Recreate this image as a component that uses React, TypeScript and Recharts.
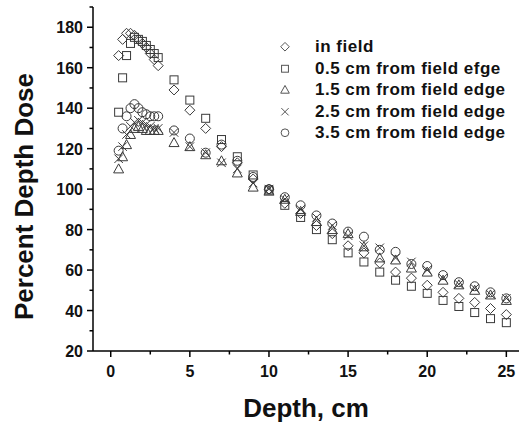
import React from 'react';
import { ScatterChart, Scatter, XAxis, YAxis, Legend } from 'recharts';

const depths = [0.5, 0.75, 1, 1.25, 1.5, 1.75, 2, 2.25, 2.5, 2.75, 3,
  4, 5, 6, 7, 8, 9, 10, 11, 12, 13, 14, 15, 16, 17, 18, 19, 20, 21, 22, 23, 24, 25];

const inField = [166, 174, 177, 177, 176, 174, 172, 170, 167, 164, 161,
  149, 139, 130, 121, 113, 105, 100, 93, 88, 82, 78, 72, 68.5, 63.5, 59, 56, 52.5, 49, 46, 44, 41, 38];
const edge05 = [138, 155, 166, 172, 175, 174, 173, 171, 169, 167, 165,
  154, 144, 135, 124.5, 116, 107, 99.5, 92, 86, 80, 75, 68.5, 64, 59, 55, 52, 48.5, 45, 42, 39, 36, 34];
const edge15 = [110, 116, 122, 127, 130, 131, 130, 129, 129, 129, 129,
  123, 121, 117, 114, 108, 101, 99, 95, 89, 84, 80, 78, 71.5, 66, 65, 61, 59, 55, 52.7, 50, 47.7, 45];
const edge25 = [115, 121, 127, 131, 133, 134, 133, 132, 131, 130, 130,
  128, 121, 118, 113, 110, 103, 100, 95, 90, 86, 82, 77, 72, 71, 66, 64, 60, 56, 53, 51, 48, 46];
const edge35 = [119, 130, 136, 140, 142, 140, 138, 137, 136, 136, 136,
  129, 125, 118, 122, 114, 106, 100, 96, 92, 87, 83, 79, 76.5, 70, 69, 63, 62, 57.5, 54, 52, 49, 46];

const seriesNames = ['in field', '0.5 cm from field efge', '1.5 cm from field edge', '2.5 cm from field edge', '3.5 cm from field edge'];
const seriesShapes = ['diamond', 'square', 'triangle', 'cross', 'circle'];
const seriesValues = [inField, edge05, edge15, edge25, edge35];

const xTicks = [0, 2.5, 5, 7.5, 10, 12.5, 15, 17.5, 20, 22.5, 25];
const yTicks = [20, 30, 40, 50, 60, 70, 80, 90, 100, 110, 120, 130, 140, 150, 160, 170, 180, 190];

const FONT = '"Liberation Sans", Arial, Helvetica, sans-serif';
const MARK = '#3a3a3a';

function drawSymbol(kind: string, cx: number, cy: number, s: number, color: string) {
  const sw = 1;
  switch (kind) {
    case 'diamond':
      return <polygon points={`${cx},${cy - s} ${cx + s},${cy} ${cx},${cy + s} ${cx - s},${cy}`} fill="none" stroke={color} strokeWidth={sw} />;
    case 'square':
      return <rect x={cx - s * 0.8} y={cy - s * 0.8} width={s * 1.6} height={s * 1.6} fill="none" stroke={color} strokeWidth={sw} />;
    case 'triangle':
      return <polygon points={`${cx},${cy - s} ${cx + s},${cy + s * 0.8} ${cx - s},${cy + s * 0.8}`} fill="none" stroke={color} strokeWidth={sw} />;
    case 'cross':
      return (
        <g stroke={color} strokeWidth={sw}>
          <line x1={cx - s * 0.85} y1={cy - s * 0.85} x2={cx + s * 0.85} y2={cy + s * 0.85} />
          <line x1={cx - s * 0.85} y1={cy + s * 0.85} x2={cx + s * 0.85} y2={cy - s * 0.85} />
        </g>
      );
    default:
      return <circle cx={cx} cy={cy} r={s * 0.9} fill="none" stroke={color} strokeWidth={sw} />;
  }
}

const makeShape = (kind: string) => (props: any) => {
  const { cx, cy } = props;
  if (cx == null || cy == null) return <g />;
  return drawSymbol(kind, cx, cy, 5, MARK);
};

const XTick = (props: any) => {
  const { x, y, payload } = props;
  const v = payload.value;
  const major = v % 5 === 0;
  return (
    <g>
      <line x1={x} y1={y} x2={x} y2={y + (major ? 6 : 3.5)} stroke="#000" strokeWidth={1.5} />
      {major && (
        <text x={x} y={y + 26} textAnchor="middle" fontFamily={FONT} fontWeight="bold" fontSize={16} fill="#111">
          {v}
        </text>
      )}
    </g>
  );
};

const YTick = (props: any) => {
  const { x, y, payload } = props;
  const v = payload.value;
  const major = v % 20 === 0;
  return (
    <g>
      <line x1={x} y1={y} x2={x - (major ? 6 : 3.5)} y2={y} stroke="#000" strokeWidth={1.5} />
      {major && (
        <text x={x - 10} y={y + 6} textAnchor="end" fontFamily={FONT} fontWeight="bold" fontSize={16} fill="#111">
          {v}
        </text>
      )}
    </g>
  );
};

const LegendContent = () => (
  <div style={{ fontFamily: FONT, fontWeight: 'bold', fontSize: 17, letterSpacing: 0.5, color: '#111' }}>
    {seriesNames.map((name, i) => (
      <div key={name} style={{ display: 'flex', alignItems: 'center', height: 21.5 }}>
        <svg width={18} height={21.5} style={{ display: 'block' }}>
          {drawSymbol(seriesShapes[i], 9, 10.75, 4.3, '#555')}
        </svg>
        <span style={{ marginLeft: 21, whiteSpace: 'nowrap', lineHeight: '21.5px' }}>{name}</span>
      </div>
    ))}
  </div>
);

export default function App() {
  const datasets = seriesValues.map((vals) => depths.map((d, i) => ({ depth: d, dose: vals[i] })));
  return (
    <div style={{ position: 'absolute', left: 0, top: 0, width: 519, height: 423, background: '#fff' }}>
      <ScatterChart width={519} height={423} margin={{ top: 7, right: 0, bottom: 0, left: 0 }}>
        <XAxis
          type="number"
          dataKey="depth"
          domain={[-1.12, 25.8]}
          ticks={xTicks}
          interval={0}
          allowDataOverflow
          height={72}
          tickSize={0}
          tickMargin={0}
          tickLine={false}
          tick={<XTick />}
          axisLine={{ stroke: '#000', strokeWidth: 1.5 }}
          label={{
            content: () => (
              <text x={306} y={417} textAnchor="middle" fontFamily={FONT} fontWeight="bold" fontSize={26} fill="#111">
                Depth, cm
              </text>
            ),
          }}
        />
        <YAxis
          type="number"
          dataKey="dose"
          domain={[20, 190]}
          ticks={yTicks}
          interval={0}
          allowDataOverflow
          width={93}
          tickSize={0}
          tickMargin={0}
          tickLine={false}
          tick={<YTick />}
          axisLine={{ stroke: '#000', strokeWidth: 1.5 }}
          label={{
            content: () => (
              <text x={33} y={196.5} transform="rotate(-90 33 196.5)" textAnchor="middle" fontFamily={FONT} fontWeight="bold" fontSize={26} fill="#111">
                Percent Depth Dose
              </text>
            ),
          }}
        />
        <Legend
          layout="vertical"
          align="center"
          verticalAlign="middle"
          content={<LegendContent />}
          wrapperStyle={{ position: 'absolute', left: 276, top: 36, width: 'auto' }}
        />
        {datasets.map((data, i) => (
          <Scatter
            key={seriesNames[i]}
            name={seriesNames[i]}
            data={data}
            shape={makeShape(seriesShapes[i])}
            isAnimationActive={false}
          />
        ))}
      </ScatterChart>
    </div>
  );
}
